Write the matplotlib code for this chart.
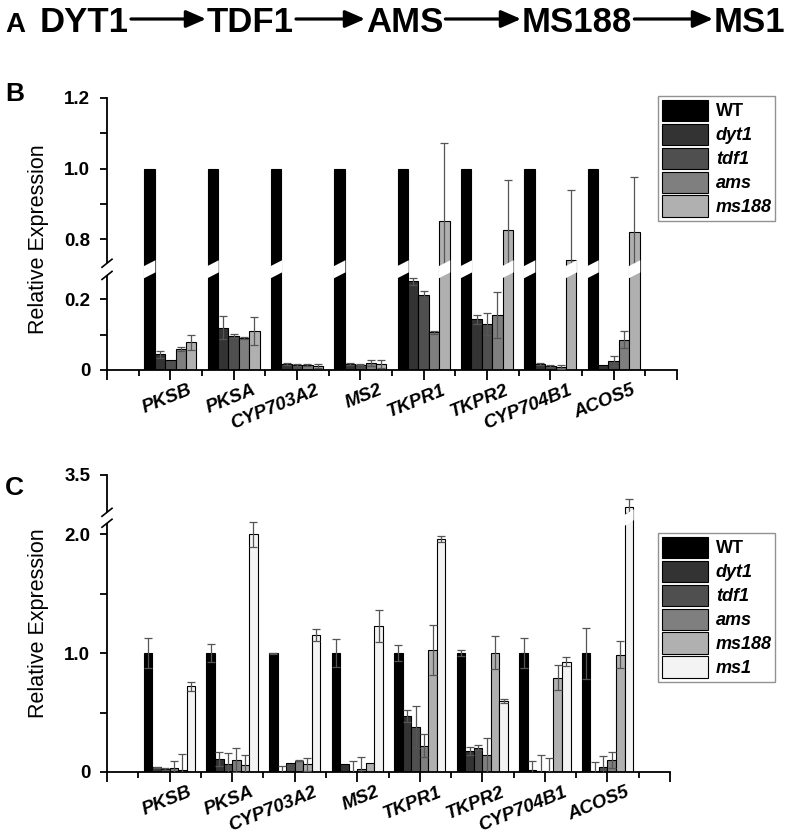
import numpy as np
import matplotlib
matplotlib.use('Agg')
import matplotlib.pyplot as plt
from matplotlib.transforms import blended_transform_factory, ScaledTranslation
from matplotlib.patches import Polygon, Rectangle, FancyArrowPatch
from matplotlib.lines import Line2D

plt.rcParams['font.family'] = ['Liberation Sans', 'DejaVu Sans']

# ---------------- data ----------------
genes = ['PKSB', 'PKSA', 'CYP703A2', 'MS2', 'TKPR1', 'TKPR2', 'CYP704B1', 'ACOS5']
pathway = ['DYT1', 'TDF1', 'AMS', 'MS188', 'MS1']

# Panel B
b_names = ['WT', 'dyt1', 'tdf1', 'ams', 'ms188']
b_wt = [1.0, 1.0, 1.0, 1.0, 1.0, 1.0, 1.0, 1.0]
b_wt_err = [0, 0, 0, 0, 0, 0, 0, 0]
b_dyt1 = [0.045, 0.120, 0.017, 0.017, 0.251, 0.143, 0.017, 0.014]
b_dyt1_err = [0.010, 0.032, 0.004, 0.002, 0.010, 0.014, 0.003, 0.0]
b_tdf1 = [0.028, 0.096, 0.014, 0.015, 0.213, 0.131, 0.012, 0.025]
b_tdf1_err = [0.0, 0.005, 0.003, 0.002, 0.011, 0.031, 0.003, 0.014]
b_ams = [0.060, 0.091, 0.014, 0.019, 0.107, 0.156, 0.009, 0.086]
b_ams_err = [0.006, 0.003, 0.004, 0.008, 0.004, 0.065, 0.006, 0.024]
b_ms188 = [0.078, 0.110, 0.012, 0.017, 0.851, 0.827, 0.740, 0.820]
b_ms188_err = [0.020, 0.040, 0.006, 0.011, 0.223, 0.140, 0.200, 0.155]

# Panel C
c_names = ['WT', 'dyt1', 'tdf1', 'ams', 'ms188', 'ms1']
c_wt = [1.0, 1.0, 1.0, 1.0, 1.0, 1.0, 1.0, 1.0]
c_wt_err = [0.125, 0.077, 0.005, 0.118, 0.068, 0.027, 0.127, 0.216]
c_dyt1 = [0.039, 0.109, 0.011, 0.067, 0.474, 0.176, 0.017, 0.005]
c_dyt1_err = [0.005, 0.056, 0.040, 0.0, 0.050, 0.033, 0.078, 0.080]
c_tdf1 = [0.022, 0.067, 0.075, 0.006, 0.379, 0.206, 0.006, 0.042]
c_tdf1_err = [0.008, 0.089, 0.0, 0.083, 0.179, 0.022, 0.139, 0.089]
c_ams = [0.036, 0.103, 0.095, 0.022, 0.223, 0.140, 0.002, 0.100]
c_ams_err = [0.053, 0.103, 0.005, 0.101, 0.097, 0.150, 0.118, 0.065]
c_ms188 = [0.014, 0.061, 0.064, 0.078, 1.029, 1.004, 0.795, 0.987]
c_ms188_err = [0.134, 0.081, 0.053, 0.0, 0.212, 0.140, 0.106, 0.115]
c_ms1 = [0.720, 2.006, 1.152, 1.230, 1.961, 0.597, 0.929, 3.230]
c_ms1_err = [0.036, 0.110, 0.050, 0.137, 0.025, 0.014, 0.040, 0.070]

b_ticks = [0, 0.1, 0.2, 0.8, 0.9, 1.0, 1.1, 1.2]
b_ticklabels = ['0', '', '0.2', '0.8', '', '1.0', '', '1.2']
c_ticks = [0, 0.5, 1.0, 1.5, 2.0, 3.5]
c_ticklabels = ['0', '', '1.0', '', '2.0', '3.5']

colors = ['#000000', '#333333', '#4f4f4f', '#7f7f7f', '#b0b0b0', '#f3f3f3']

# ---------------- figure ----------------
W, H = 789, 839
fig = plt.figure(figsize=(W / 100, H / 100), dpi=100)


def rect(l, t, r, b):
    return [l / W, 1 - b / H, (r - l) / W, (b - t) / H]


axB = fig.add_axes(rect(107, 98, 677, 370))
axC = fig.add_axes(rect(107, 475, 670, 772))


def make_scale(L, G, U):
    D = U - L - G

    def fwd(y):
        y = np.asarray(y, dtype=float)
        return np.where(y <= L, y, np.where(y >= U, y - D, L + (y - L) * G / (U - L)))

    def inv(t):
        t = np.asarray(t, dtype=float)
        return np.where(t <= L, t, np.where(t >= L + G, t + D, L + (t - L) * (U - L) / G))
    return fwd, inv


def draw_panel(ax, vals, errs, names, L, G, U, ymax, ticks, ticklabels, ylab_y):
    fwd, inv = make_scale(L, G, U)
    ax.set_yscale('function', functions=(fwd, inv))
    ax.set_ylim(0, ymax)
    ax.set_xlim(0, 9)
    ymax_t = float(fwd(ymax))
    n = len(names)
    gw = 0.82
    bw = gw / n
    x = np.arange(1, len(genes) + 1)
    hpx = ax.bbox.height
    trans = blended_transform_factory(ax.transData, ax.transAxes)
    fc = (L + G / 2) / ymax_t
    th = (G / 2) / ymax_t * 1.15
    s = 6.0 / hpx
    for i in range(n):
        v = np.asarray(vals[i])
        e = np.asarray(errs[i])
        xs = x - gw / 2 + bw * (i + 0.5)
        bars = ax.bar(xs, v, bw, color=colors[i], edgecolor='black', linewidth=0.8,
                      label=names[i], zorder=2)
        m = e > 0
        if m.any():
            ax.errorbar(xs[m], v[m], yerr=e[m], fmt='none', ecolor='#555555',
                        elinewidth=0.9, capsize=3, capthick=0.9, zorder=3)
        for p, val in zip(bars, v):
            if val > U:
                x0 = p.get_x() - 0.01
                x1 = p.get_x() + p.get_width() + 0.01
                poly = Polygon([(x0, fc - th - s / 2), (x1, fc - th + s / 2),
                                (x1, fc + th + s / 2), (x0, fc + th - s / 2)],
                               closed=True, facecolor='white', edgecolor='none',
                               transform=trans, zorder=4)
                ax.add_patch(poly)
    # spines
    for sp in ['top', 'right']:
        ax.spines[sp].set_visible(False)
    for sp in ['left', 'bottom']:
        ax.spines[sp].set_linewidth(1.3)
    ax.set_yticks(ticks)
    ax.set_yticklabels(ticklabels, fontsize=13.5, fontweight='bold')
    ax.tick_params(axis='y', direction='out', length=5, width=1.3, pad=7)
    ax.set_xticks(np.arange(0, 10))
    ax.set_xticks(np.arange(0.5, 9, 1.0), minor=True)
    ax.set_xticklabels([''] + genes + [''])
    ax.tick_params(axis='x', which='major', direction='out', length=7, width=1.3, pad=1.5)
    ax.tick_params(axis='x', which='minor', direction='out', length=4, width=1.3)
    off = ScaledTranslation(18 / 100, 0, fig.dpi_scale_trans)
    for lab in ax.get_xticklabels():
        lab.set_rotation(22)
        lab.set_ha('right')
        lab.set_va('top')
        lab.set_rotation_mode('anchor')
        lab.set_fontsize(13.5)
        lab.set_fontweight('bold')
        lab.set_fontstyle('italic')
        lab.set_transform(lab.get_transform() + off)
    ax.set_ylabel('Relative Expression', fontsize=15.5)
    ax.yaxis.set_label_coords(-(107 - 49) / ax.bbox.width, ylab_y)
    # spine break
    ta = ax.transAxes
    wpx = ax.bbox.width
    gl, gh = fc - th, fc + th
    ax.add_patch(Rectangle((-4 / wpx, gl), 8 / wpx, gh - gl, transform=ta,
                           facecolor='white', edgecolor='none', clip_on=False, zorder=5))
    for yb in (gl, gh):
        ax.add_line(Line2D([-5 / wpx, 5 / wpx], [yb - 4 / hpx, yb + 4 / hpx], transform=ta,
                           color='black', lw=1.2, clip_on=False, zorder=6))
    return ax


draw_panel(axB, [b_wt, b_dyt1, b_tdf1, b_ams, b_ms188],
           [b_wt_err, b_dyt1_err, b_tdf1_err, b_ams_err, b_ms188_err],
           b_names, 0.27, 0.03, 0.73, 1.2, b_ticks, b_ticklabels, 0.48)
draw_panel(axC, [c_wt, c_dyt1, c_tdf1, c_ams, c_ms188, c_ms1],
           [c_wt_err, c_dyt1_err, c_tdf1_err, c_ams_err, c_ms188_err, c_ms1_err],
           c_names, 2.1, 0.08, 3.18, 3.5, c_ticks, c_ticklabels, 0.5)


def legend(ax, top):
    leg = ax.legend(loc='upper left',
                    bbox_to_anchor=(658 / W, 1 - top / H),
                    bbox_transform=fig.transFigure, frameon=True,
                    fancybox=False, edgecolor='#777777', borderpad=0.2,
                    handlelength=2.55, handleheight=1.45, labelspacing=0.14,
                    handletextpad=0.45, borderaxespad=0,
                    prop=dict(weight='bold', size=13))
    leg.get_frame().set_linewidth(1.0)
    for t in leg.get_texts():
        if t.get_text() != 'WT':
            t.set_fontstyle('italic')
    return leg


legend(axB, 96)
legend(axC, 533)

# ---------------- pathway header ----------------
renderer = fig.canvas.get_renderer()
word_x = [40, 207, 366, 522, 714]
base_y = 1 - 32 / H
texts = []
for w, xp in zip(pathway, word_x):
    t = fig.text(xp / W, base_y, w, fontsize=25, fontweight='bold', ha='left',
                 va='baseline')
    texts.append(t)
ext = [t.get_window_extent(renderer) for t in texts]
mid_y = 1 - 19 / H
for a, b in zip(ext[:-1], ext[1:]):
    arr = FancyArrowPatch(((a.x1 + 2) / W, mid_y), ((b.x0 - 1) / W, mid_y),
                          transform=fig.transFigure,
                          arrowstyle='-|>,head_length=0.8,head_width=0.35',
                          mutation_scale=15, lw=2.3, color='black',
                          shrinkA=0, shrinkB=0)
    fig.patches.append(arr)

fig.text(5 / W, base_y, 'A', fontsize=20, fontweight='bold', ha='left', va='baseline')
fig.text(5 / W, 1 - 101 / H, 'B', fontsize=19, fontweight='bold', ha='left', va='baseline')
fig.text(5 / W, 1 - 495 / H, 'C', fontsize=19, fontweight='bold', ha='left', va='baseline')

fig.savefig('out.png', dpi=100)
